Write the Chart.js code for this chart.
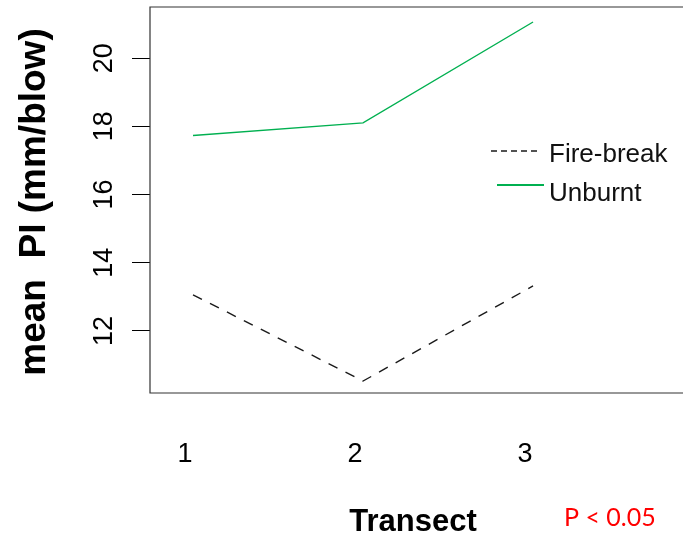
<!DOCTYPE html>
<html>
<head>
<meta charset="utf-8">
<script src="https://cdn.jsdelivr.net/npm/chart.js@4.4.1/dist/chart.umd.min.js"></script>
<style>
  html, body { margin: 0; padding: 0; background: #fff; }
  #wrap { width: 683px; height: 535px; }
</style>
</head>
<body>
<div id="wrap"><canvas id="plot" width="683" height="535"></canvas></div>
<script>
// transect numbers and mean PI per treatment
var transects = [1, 2, 3];
var fireBreak = [13.06, 10.53, 13.32];
var unburnt = [17.73, 18.10, 21.06];
var yTicks = [12, 14, 16, 18, 20];
var seriesNames = ['Fire-break', 'Unburnt'];

function pts(vals) {
    return transects.map(function(t, i) { return { x: t, y: vals[i] }; });
}

var annotate = {
    id: 'annotate',
    afterDraw: function(chart) {
        var ctx = chart.ctx;
        var a = chart.chartArea;
        var xs = chart.scales.x, ys = chart.scales.y;
        ctx.save();

        // box (right side falls outside the picture)
        ctx.strokeStyle = '#333';
        ctx.lineWidth = 1.2;
        ctx.beginPath();
        ctx.moveTo(a.right + 2, a.top);
        ctx.lineTo(a.left, a.top);
        ctx.lineTo(a.left, a.bottom);
        ctx.lineTo(a.right + 2, a.bottom);
        ctx.stroke();

        ctx.fillStyle = '#000';

        // y tick labels, rotated
        ctx.font = '27px "Liberation Sans", Arial, sans-serif';
        ctx.textAlign = 'center';
        ctx.textBaseline = 'alphabetic';
        yTicks.forEach(function(v) {
            ctx.save();
            ctx.translate(112, ys.getPixelForValue(v));
            ctx.rotate(-Math.PI / 2);
            ctx.fillText(String(v), 0, 0);
            ctx.restore();
        });

        // x tick labels
        transects.forEach(function(t) {
            ctx.fillText(String(t), xs.getPixelForValue(t) - 8, 462);
        });

        // y title
        ctx.save();
        ctx.font = 'bold 37px "Liberation Sans", Arial, sans-serif';
        ctx.translate(45, 202);
        ctx.rotate(-Math.PI / 2);
        ctx.fillText('mean  PI (mm/blow)', 0, 0);
        ctx.restore();

        // x title
        ctx.font = 'bold 31px "Liberation Sans", Arial, sans-serif';
        ctx.fillText('Transect', 413, 531);

        // p value
        ctx.font = '25px Lato, "Liberation Sans", sans-serif';
        ctx.fillStyle = '#ff0000';
        ctx.textAlign = 'left';
        ctx.fillText('P < 0.05', 564, 526);

        // legend
        var ds = chart.data.datasets;
        ctx.lineWidth = 1.6;
        ctx.strokeStyle = ds[0].borderColor;
        ctx.setLineDash([6, 4]);
        ctx.beginPath();
        ctx.moveTo(491, 151);
        ctx.lineTo(540, 151);
        ctx.stroke();
        ctx.setLineDash([]);
        ctx.lineWidth = 2.2;
        ctx.strokeStyle = ds[1].borderColor;
        ctx.beginPath();
        ctx.moveTo(497, 185);
        ctx.lineTo(544, 185);
        ctx.stroke();

        ctx.fillStyle = '#111';
        ctx.font = '26px "Liberation Sans", Arial, sans-serif';
        ctx.fillText(ds[0].label, 549, 162);
        ctx.fillText(ds[1].label, 549, 201);

        ctx.restore();
    }
};

new Chart(document.getElementById('plot'), {
    type: 'line',
    data: {
        datasets: [
            {
                label: seriesNames[0],
                data: pts(fireBreak),
                borderColor: '#1a1a1a',
                borderWidth: 1.4,
                borderDash: [10, 9],
                pointRadius: 0,
                tension: 0,
                fill: false
            },
            {
                label: seriesNames[1],
                data: pts(unburnt),
                borderColor: '#00b050',
                borderWidth: 1.4,
                pointRadius: 0,
                tension: 0,
                fill: false
            }
        ]
    },
    options: {
        responsive: false,
        animation: false,
        layout: { padding: { top: 7, left: 0, right: 0, bottom: 0 } },
        plugins: {
            legend: { display: false },
            tooltip: { enabled: false }
        },
        scales: {
            x: {
                type: 'linear',
                min: 0.747,
                max: 3.882,
                grid: { display: false },
                border: { display: false },
                ticks: { display: false },
                afterFit: function(scale) { scale.height = 142; }
            },
            y: {
                min: 10.18,
                max: 21.5,
                afterBuildTicks: function(scale) {
                    scale.ticks = yTicks.map(function(v) { return { value: v }; });
                },
                grid: {
                    drawOnChartArea: false,
                    drawTicks: true,
                    tickLength: 18,
                    color: '#000',
                    lineWidth: 1
                },
                border: { display: false },
                ticks: { display: false },
                afterFit: function(scale) { scale.width = 150; }
            }
        }
    },
    plugins: [annotate]
});
</script>
</body>
</html>
